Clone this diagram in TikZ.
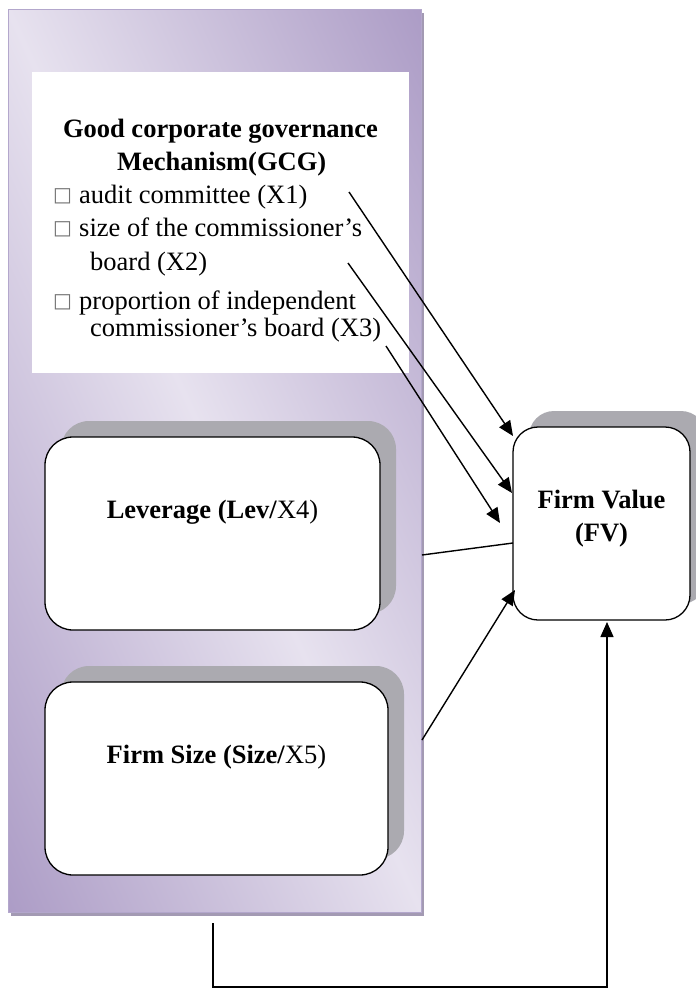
\documentclass[tikz,border=0pt]{standalone}
\usepackage{fontspec}
\setmainfont{Liberation Serif}
\newfontfamily\symfont{DejaVu Sans}
\usetikzlibrary{arrows.meta,calc,shadows}
\definecolor{pshadow}{HTML}{A39AB3}
\definecolor{pedge}{HTML}{B3A7CC}
\definecolor{bshadow}{HTML}{ABAAB0}
\pgfdeclarefunctionalshading{panelshade}{\pgfpointorigin}{\pgfpoint{100bp}{100bp}}{}{
  25 sub 50 div exch 25 sub 50 div add 1 sub abs dup 1 gt {pop 1} if
  dup -0.231 mul 0.906 add exch
  dup -0.274 mul 0.886 add exch
  -0.161 mul 0.937 add
}
\newcommand{\bul}{\makebox[26pt][l]{\raisebox{2pt}{\color{black!55}\symfont\fontsize{20}{20}\selectfont □}}}
\begin{document}
\begin{tikzpicture}[x=1pt,y=-1pt,
  every node/.style={font=\fontsize{26.5}{33}\selectfont, inner sep=0pt},
  panelbox/.style={draw=pedge, line width=0.8pt, minimum width=413pt, minimum height=903pt,
    shading=panelshade,
    drop shadow={shadow xshift=3pt, shadow yshift=-4pt, fill=pshadow, opacity=1}},
  whitebox/.style={fill=white, minimum width=377pt, minimum height=301pt},
  roundbox/.style={draw=black, line width=1.3pt, fill=white, rounded corners=28pt,
    drop shadow={shadow xshift=16pt, shadow yshift=16pt, fill=bshadow, opacity=1}},
  lowtext/.style={text height=18pt, text depth=49pt},
  listline/.style={anchor=base west},
  titleline/.style={anchor=base, font=\fontsize{26.5}{33}\selectfont\bfseries},
  arr/.style={line width=1.4pt, -{Triangle[length=15pt,width=13pt]}},
  plain/.style={line width=1.4pt}
]
\useasboundingbox (0,0) rectangle (696,988);

% left panel
\node[panelbox] (panel) at (214.5,460.5) {};
\node[whitebox] (gcg) at (220.5,222.5) {};
\node[titleline] (t1) at (220.5,137) {Good corporate governance};
\node[titleline] (t2) at (221.7,170) {Mechanism(GCG)};
\node[listline] (l1) at (53,203) {\bul audit committee (X1)};
\node[listline] (l2) at (53,236) {\bul size of the commissioner’s};
\node[listline] (l3) at (90,270) {board (X2)};
\node[listline] (l4) at (53,309) {\bul proportion of independent};
\node[listline] (l5) at (90,336) {commissioner’s board (X3)};

\node[roundbox, lowtext, minimum width=335pt, minimum height=193pt] (lev) at (212.5,533.5)
  {\textbf{Leverage (Lev/}X4)};
\node[roundbox, lowtext, minimum width=343pt, minimum height=193pt] (size) at (216.5,778.5)
  {\textbf{Firm Size (Size/}X5)};

% firm value
\node[roundbox, rounded corners=25pt, minimum width=177pt, minimum height=193pt, align=center,
  font=\fontsize{26.5}{33}\selectfont\bfseries] (fv) at (601.5,523.5)
  {Firm Value\\(FV)\rule[-16pt]{0pt}{16pt}};

% connector end points
\coordinate (s1) at (349,192);
\coordinate (e1) at (513,436);
\coordinate (s2) at (348,263);
\coordinate (e2) at (512,493);
\coordinate (s3) at (386,346);
\coordinate (e3) at (500,523);
\coordinate (s4) at (422,555);
\coordinate (e4) at (513,543);
\coordinate (s5) at (422,740);
\coordinate (e5) at (515,590);
\coordinate (s6) at (213,923);
\coordinate (c6) at (213,987);
\coordinate (e6) at (607,622);

\draw[arr] (s1) -- (e1);
\draw[arr] (s2) -- (e2);
\draw[arr] (s3) -- (e3);
\draw[plain] (s4) -- (e4);
\draw[arr] (s5) -- (e5);
\draw[arr] (s6) -- (c6) -| (e6);
\end{tikzpicture}
\end{document}
